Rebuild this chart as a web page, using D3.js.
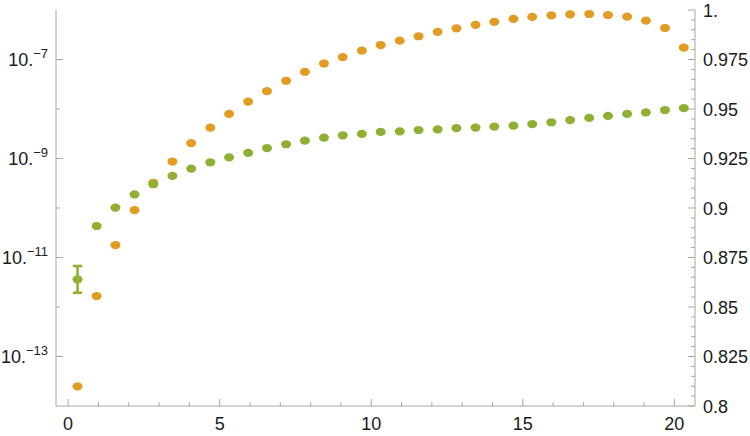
<!DOCTYPE html>
<html>
<head>
<meta charset="utf-8">
<script src="https://cdn.jsdelivr.net/npm/d3@7"></script>
<style>
  html, body { margin: 0; padding: 0; background: #fff; }
  svg text { font-family: "Liberation Sans", Arial, sans-serif; fill: #1a1a1a; }
</style>
</head>
<body>
<svg id="chart" width="750" height="436"></svg>
<script>
// ---- data ----
const xValues = [0.31, 0.94, 1.56, 2.19, 2.81, 3.44, 4.06, 4.69, 5.31, 5.94, 6.56, 7.19, 7.81, 8.44, 9.06, 9.69,
  10.31, 10.94, 11.56, 12.19, 12.81, 13.44, 14.06, 14.69, 15.31, 15.94, 16.56, 17.19, 17.81, 18.44, 19.06, 19.69, 20.31];
// orange series, left (log) axis
const orangeValues = [2.5e-14, 1.66e-12, 1.78e-11, 9.1e-11, 3.24e-10, 8.7e-10, 2.04e-9, 4.19e-9, 7.94e-9, 1.41e-8,
  2.29e-8, 3.72e-8, 5.62e-8, 8.3e-8, 1.12e-7, 1.51e-7, 1.95e-7, 2.40e-7, 2.95e-7, 3.63e-7, 4.27e-7, 5.01e-7,
  5.75e-7, 6.61e-7, 7.24e-7, 7.76e-7, 8.18e-7, 8.30e-7, 7.92e-7, 7.33e-7, 6.08e-7, 4.33e-7, 1.73e-7];
// green series, right (linear) axis
const greenValues = [0.864, 0.8909, 0.9002, 0.9069, 0.9120, 0.9162, 0.9199, 0.9231, 0.9256, 0.9278, 0.9302,
  0.9322, 0.9340, 0.9355, 0.9367, 0.9374, 0.9384, 0.9387, 0.9394, 0.9397, 0.9403, 0.9406, 0.9411, 0.9416,
  0.9424, 0.9433, 0.9444, 0.9455, 0.9465, 0.9475, 0.9483, 0.9495, 0.9504];
// error bar on first green point
const greenErrLow = [0.8572];
const greenErrHigh = [0.8707];
const xTicks = [0, 5, 10, 15, 20];
const leftTickExps = [-7, -9, -11, -13];
const leftMinorExps = [-8, -10, -12];
const rightTicks = [0.8, 0.825, 0.85, 0.875, 0.9, 0.925, 0.95, 0.975, 1.0];
const rightTickLabels = ["0.8", "0.825", "0.85", "0.875", "0.9", "0.925", "0.95", "0.975", "1."];

(function () {
// ---- layout ----
const svg = d3.select("#chart");
const pLeft = 56, pRight = 695, pTop = 10, pBottom = 406;
const axisColor = "#a6a6a6";
const orange = "#E19C24", green = "#8FB032";

const x = d3.scaleLinear().domain([-0.4, 20.68]).range([pLeft, pRight]);
const yL = d3.scaleLog().domain([1e-14, 1e-6]).range([pBottom, pTop]);
const yR = d3.scaleLinear().domain([0.8, 1.0]).range([pBottom, pTop]);

const g = svg.append("g");

// axes lines
g.append("line").attr("x1", pLeft).attr("x2", pLeft).attr("y1", pTop).attr("y2", pBottom)
  .attr("stroke", axisColor).attr("stroke-width", 1);
g.append("line").attr("x1", pRight).attr("x2", pRight).attr("y1", pTop).attr("y2", pBottom)
  .attr("stroke", axisColor).attr("stroke-width", 1);
g.append("line").attr("x1", pLeft).attr("x2", pRight).attr("y1", pBottom).attr("y2", pBottom)
  .attr("stroke", axisColor).attr("stroke-width", 1);

// x ticks
const xMinor = d3.range(0, 21, 1).filter(v => v % 5 !== 0);
g.selectAll(".xmin").data(xMinor).enter().append("line")
  .attr("x1", d => x(d)).attr("x2", d => x(d)).attr("y1", pBottom).attr("y2", pBottom - 4)
  .attr("stroke", axisColor);
g.selectAll(".xmaj").data(xTicks).enter().append("line")
  .attr("x1", d => x(d)).attr("x2", d => x(d)).attr("y1", pBottom).attr("y2", pBottom - 7)
  .attr("stroke", axisColor);
g.selectAll(".xlab").data(xTicks).enter().append("text")
  .attr("x", d => x(d)).attr("y", 430).attr("text-anchor", "middle")
  .attr("font-size", 18).text(d => d);

// left ticks
g.selectAll(".lmin").data(leftMinorExps).enter().append("line")
  .attr("x1", pLeft).attr("x2", pLeft + 4).attr("y1", d => yL(Math.pow(10, d))).attr("y2", d => yL(Math.pow(10, d)))
  .attr("stroke", axisColor);
g.selectAll(".lmaj").data(leftTickExps).enter().append("line")
  .attr("x1", pLeft).attr("x2", pLeft + 7).attr("y1", d => yL(Math.pow(10, d))).attr("y2", d => yL(Math.pow(10, d)))
  .attr("stroke", axisColor);
const ll = g.selectAll(".llab").data(leftTickExps).enter().append("text")
  .attr("x", 48).attr("y", d => yL(Math.pow(10, d)) + 6).attr("text-anchor", "end")
  .attr("font-size", 18);
ll.append("tspan").text("10.");
ll.append("tspan").attr("dy", -8).attr("font-size", 13).text(d => "\u2212" + Math.abs(d));

// right ticks
const rMinor = d3.range(0, 41).map(i => 0.8 + i * 0.005).filter((v, i) => i % 5 !== 0);
g.selectAll(".rmin").data(rMinor).enter().append("line")
  .attr("x1", pRight).attr("x2", pRight - 4).attr("y1", d => yR(d)).attr("y2", d => yR(d))
  .attr("stroke", axisColor);
g.selectAll(".rmaj").data(rightTicks).enter().append("line")
  .attr("x1", pRight).attr("x2", pRight - 7).attr("y1", d => yR(d)).attr("y2", d => yR(d))
  .attr("stroke", axisColor);
g.selectAll(".rlab").data(rightTicks).enter().append("text")
  .attr("x", 703).attr("y", d => yR(d) + 6.5).attr("text-anchor", "start")
  .attr("font-size", 18).text((d, i) => rightTickLabels[i]);

// error bar on first green point
const ebX = x(xValues[0]);
const eb = g.append("g").attr("stroke", green).attr("stroke-width", 2.6);
eb.append("line").attr("x1", ebX).attr("x2", ebX).attr("y1", yR(greenErrHigh[0])).attr("y2", yR(greenErrLow[0]));
eb.append("line").attr("x1", ebX - 4.6).attr("x2", ebX + 4.6).attr("y1", yR(greenErrHigh[0])).attr("y2", yR(greenErrHigh[0]));
eb.append("line").attr("x1", ebX - 4.6).attr("x2", ebX + 4.6).attr("y1", yR(greenErrLow[0])).attr("y2", yR(greenErrLow[0]));

// points
g.selectAll(".og").data(orangeValues).enter().append("ellipse")
  .attr("cx", (d, i) => x(xValues[i])).attr("cy", d => yL(d))
  .attr("rx", 5).attr("ry", 4.1).attr("fill", orange);
g.selectAll(".gg").data(greenValues).enter().append("ellipse")
  .attr("cx", (d, i) => x(xValues[i])).attr("cy", d => yR(d))
  .attr("rx", 5).attr("ry", 4.1).attr("fill", green);
})();
</script>
</body>
</html>
